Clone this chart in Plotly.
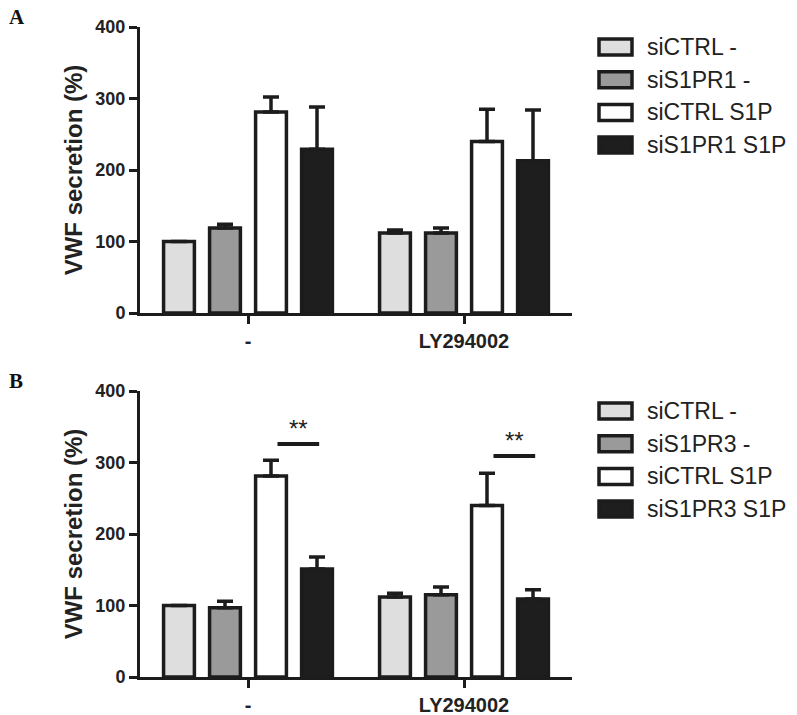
import plotly.graph_objects as go

# ---------------- data ----------------
groups = ["-", "LY294002"]
group_pos = [0, 1]

a_labels = ["siCTRL -", "siS1PR1 -", "siCTRL S1P", "siS1PR1 S1P"]
a_ctrl_neg = [100, 112]
a_ctrl_neg_err = [0, 4]
a_r1_neg = [119, 112]
a_r1_neg_err = [5, 7]
a_ctrl_s1p = [281, 240]
a_ctrl_s1p_err = [21, 45]
a_r1_s1p = [229, 213]
a_r1_s1p_err = [59, 71]

b_labels = ["siCTRL -", "siS1PR3 -", "siCTRL S1P", "siS1PR3 S1P"]
b_ctrl_neg = [100, 112]
b_ctrl_neg_err = [0, 5]
b_r3_neg = [97, 115]
b_r3_neg_err = [9, 11]
b_ctrl_s1p = [281, 240]
b_ctrl_s1p_err = [22, 45]
b_r3_s1p = [151, 109]
b_r3_s1p_err = [17, 13]

sig_y = [326, 309]
sig_text = ["**", "**"]

y_ticks = [0, 100, 200, 300, 400]
y_title = "VWF secretion (%)"
panel_labels = ["A", "B"]

# ---------------- style ----------------
W, H = 797, 715
colors = ["#dedede", "#9a9a9a", "#ffffff", "#1e1e1e"]
edge = "#1c1c1c"
FONT = "Liberation Sans, Arial, sans-serif"
BARGAP = 0.148
BARGROUPGAP = 0.33


def px_x(p):
    return p / W


def px_y(p):
    return 1 - p / H


fig = go.Figure()

panels = [
    dict(labels=a_labels,
         vals=[a_ctrl_neg, a_r1_neg, a_ctrl_s1p, a_r1_s1p],
         errs=[a_ctrl_neg_err, a_r1_neg_err, a_ctrl_s1p_err, a_r1_s1p_err],
         xa="x", ya="y", top=27, bottom=313),
    dict(labels=b_labels,
         vals=[b_ctrl_neg, b_r3_neg, b_ctrl_s1p, b_r3_s1p],
         errs=[b_ctrl_neg_err, b_r3_neg_err, b_ctrl_s1p_err, b_r3_s1p_err],
         xa="x2", ya="y2", top=391, bottom=677),
]

for pi, p in enumerate(panels):
    for i in range(4):
        fig.add_trace(go.Bar(
            x=group_pos, y=p["vals"][i], name=p["labels"][i],
            xaxis=p["xa"], yaxis=p["ya"], offsetgroup=str(i),
            marker=dict(color=colors[i], line=dict(color=edge, width=3.5)),
            error_y=dict(type="data", symmetric=False, array=p["errs"][i],
                         arrayminus=[0] * len(group_pos), thickness=3.5,
                         width=8, color=edge),
            showlegend=False,
        ))

# axes
x_left, x_right = 140, 572
common_x = dict(range=[-0.5, 1.5], tickvals=group_pos, ticktext=groups,
                showline=True, linewidth=3, linecolor=edge, ticks="outside",
                ticklen=8, tickwidth=3, tickcolor=edge, showgrid=False,
                zeroline=False, automargin=False,
                tickfont=dict(family=FONT, size=20, color="#222", weight="bold"),
                domain=[px_x(x_left), px_x(x_right)])
common_y = dict(range=[0, 400], tickvals=y_ticks, showline=True, linewidth=3,
                linecolor=edge, ticks="outside", ticklen=8, tickwidth=3,
                tickcolor=edge, showgrid=False, zeroline=False, automargin=False,
                tickfont=dict(family=FONT, size=18, color="#222", weight="bold"),
                title=dict(text=y_title, standoff=6,
                           font=dict(family=FONT, size=24, color="#222",
                                     weight="bold")))

fig.update_layout(
    xaxis=dict(**common_x, anchor="y"),
    yaxis=dict(**common_y, anchor="x",
               domain=[px_y(panels[0]["bottom"]), px_y(panels[0]["top"])]),
    xaxis2=dict(**common_x, anchor="y2"),
    yaxis2=dict(**common_y, anchor="x2",
                domain=[px_y(panels[1]["bottom"]), px_y(panels[1]["top"])]),
    barmode="group", bargap=BARGAP, bargroupgap=BARGROUPGAP,
    width=W, height=H, margin=dict(l=0, r=0, t=0, b=0, autoexpand=False),
    plot_bgcolor="white", paper_bgcolor="white",
    font=dict(family=FONT, color="#222"),
)

shapes = []
annotations = []

# significance bars (panel B) between bar 3 and bar 4 centres
slot = (1 - BARGAP) / 4
off3 = -0.5 * (1 - BARGAP) + 2.5 * slot
off4 = -0.5 * (1 - BARGAP) + 3.5 * slot
for g, yv, t in zip(group_pos, sig_y, sig_text):
    x0, x1 = g + off3 + 0.03, g + off4 + 0.01
    shapes.append(dict(type="line", xref="x2", yref="y2", x0=x0, x1=x1,
                       y0=yv, y1=yv, line=dict(color=edge, width=4)))
    annotations.append(dict(xref="x2", yref="y2", x=(x0 + x1) / 2, y=yv,
                            text=t, showarrow=False, yanchor="bottom",
                            yshift=0,
                            font=dict(family=FONT, size=24, color="#222")))

# custom legends with large swatches
for p in panels:
    base = p["top"] + 20
    for i, lab in enumerate(p["labels"]):
        cy = base + i * 32.7
        shapes.append(dict(type="rect", xref="paper", yref="paper",
                           x0=px_x(599), x1=px_x(632),
                           y0=px_y(cy - 8), y1=px_y(cy + 8),
                           fillcolor=colors[i], line=dict(color=edge, width=3.5)))
        annotations.append(dict(xref="paper", yref="paper", x=px_x(645),
                                y=px_y(cy), text=lab, showarrow=False,
                                xanchor="left", yanchor="middle",
                                font=dict(family=FONT, size=23, color="#222")))

# panel letters
for lab, p in zip(panel_labels, panels):
    annotations.append(dict(xref="paper", yref="paper", x=px_x(7),
                            y=px_y(p["top"] - 10), text=lab, showarrow=False,
                            xanchor="left", yanchor="middle",
                            font=dict(family="Liberation Serif, serif", size=21,
                                      color="#111", weight="bold")))

fig.update_layout(shapes=shapes, annotations=annotations)

post = "document.body.style.margin='0';"
fig.write_html(
    "out.html",
    config={"responsive": False, "displayModeBar": False},
    post_script=post,
)
